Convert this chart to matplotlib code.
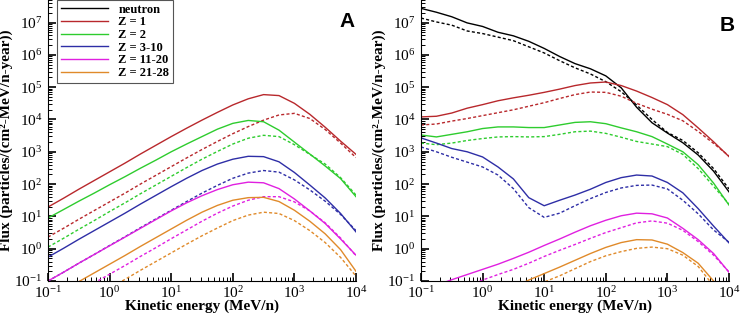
import matplotlib
matplotlib.use('Agg')
import matplotlib.pyplot as plt
from matplotlib.ticker import LogLocator, NullFormatter, LogFormatterSciNotation
import numpy as np

plt.rcParams['font.family'] = ['Liberation Serif', 'DejaVu Serif']
plt.rcParams['mathtext.fontset'] = 'custom'
plt.rcParams['mathtext.rm'] = 'Liberation Serif'

# kinetic energy grid (MeV/n), quarter decades
energy = [0.1, 0.178, 0.316, 0.562, 1, 1.78, 3.16, 5.62, 10, 17.8, 31.6,
          56.2, 100, 178, 316, 562, 1000, 1780, 3160, 5620, 10000]
x_ticks = [0.1, 1, 10, 100, 1000, 10000]
y_ticks = [0.1, 1, 10, 100, 1e3, 1e4, 1e5, 1e6, 1e7]

labels = ['neutron', 'Z = 1', 'Z = 2', 'Z = 3-10', 'Z = 11-20', 'Z = 21-28']
colors = ['#000000', '#b8282c', '#2ecc2e', '#2e2ea6', '#e020e0', '#e08a2a']

# panel A, log10 flux (no neutron curve)
a_z1 = [1.29, 1.56, 1.84, 2.11, 2.38, 2.65, 2.93, 3.20, 3.47, 3.73, 3.98,
        4.22, 4.45, 4.64, 4.77, 4.74, 4.50, 4.16, 3.76, 3.33, 2.92]
a_z1_d = [0.36, 0.63, 0.91, 1.18, 1.45, 1.72, 2.00, 2.27, 2.54, 2.81, 3.07,
          3.32, 3.56, 3.78, 3.98, 4.14, 4.19, 4.03, 3.69, 3.27, 2.82]
a_z2 = [0.95, 1.21, 1.47, 1.72, 1.98, 2.23, 2.49, 2.74, 3.00, 3.24, 3.47,
        3.70, 3.88, 3.97, 3.93, 3.67, 3.30, 2.93, 2.56, 2.17, 1.61]
a_z2_d = [0.05, 0.32, 0.60, 0.87, 1.15, 1.42, 1.70, 1.97, 2.24, 2.51, 2.77,
          3.01, 3.24, 3.42, 3.51, 3.47, 3.22, 2.92, 2.62, 2.20, 1.66]
a_z3 = [-0.26, 0.01, 0.29, 0.56, 0.83, 1.10, 1.38, 1.65, 1.92, 2.18, 2.42,
        2.62, 2.77, 2.86, 2.85, 2.69, 2.36, 1.97, 1.57, 1.09, 0.52]
a_z3_d = [-1.00, -0.73, -0.45, -0.18, 0.10, 0.37, 0.65, 0.92, 1.19, 1.46, 1.72,
          1.96, 2.18, 2.34, 2.42, 2.37, 2.13, 1.82, 1.47, 1.06, 0.56]
a_z11 = [-1.00, -0.73, -0.45, -0.18, 0.09, 0.36, 0.63, 0.90, 1.17, 1.42, 1.64,
         1.83, 1.98, 2.06, 2.04, 1.86, 1.54, 1.17, 0.78, 0.30, -0.20]
a_z11_d = [-1.88, -1.61, -1.33, -1.06, -0.79, -0.52, -0.24, 0.03, 0.31, 0.58, 0.85,
           1.10, 1.32, 1.50, 1.61, 1.61, 1.45, 1.17, 0.80, 0.33, -0.22]
a_z21 = [-1.57, -1.30, -1.02, -0.75, -0.48, -0.21, 0.07, 0.34, 0.61, 0.88, 1.13,
         1.34, 1.50, 1.58, 1.59, 1.46, 1.19, 0.85, 0.46, -0.03, -0.70]
a_z21_d = [-2.30, -2.03, -1.76, -1.49, -1.22, -0.95, -0.67, -0.40, -0.13, 0.14, 0.40,
           0.64, 0.87, 1.04, 1.13, 1.09, 0.87, 0.56, 0.19, -0.27, -0.85]

# panel B
b_n = [7.44, 7.32, 7.18, 6.99, 6.88, 6.70, 6.59, 6.42, 6.20, 5.95, 5.73,
       5.57, 5.35, 4.98, 4.38, 3.90, 3.58, 3.28, 2.90, 2.40, 1.76]
b_n_d = [7.14, 7.02, 6.92, 6.74, 6.66, 6.55, 6.44, 6.25, 6.06, 5.82, 5.60,
         5.41, 5.17, 4.86, 4.45, 4.00, 3.60, 3.35, 2.97, 2.48, 1.85]
b_z1 = [4.08, 4.10, 4.20, 4.35, 4.46, 4.58, 4.67, 4.75, 4.84, 4.94, 5.05,
        5.13, 5.16, 5.05, 4.88, 4.68, 4.46, 4.15, 3.74, 3.31, 2.85]
b_z1_d = [3.83, 3.86, 3.95, 4.03, 4.12, 4.21, 4.30, 4.41, 4.52, 4.65, 4.77,
          4.85, 4.84, 4.72, 4.50, 4.32, 4.16, 3.96, 3.63, 3.26, 2.87]
b_z2 = [3.52, 3.46, 3.54, 3.62, 3.72, 3.77, 3.77, 3.75, 3.75, 3.83, 3.91,
        3.93, 3.87, 3.74, 3.62, 3.47, 3.24, 3.00, 2.60, 2.03, 1.35]
b_z2_d = [3.27, 3.22, 3.27, 3.35, 3.41, 3.46, 3.47, 3.46, 3.47, 3.54, 3.62,
          3.64, 3.57, 3.45, 3.32, 3.24, 3.16, 2.92, 2.48, 1.93, 1.38]
b_z3 = [3.43, 3.27, 3.10, 3.00, 2.84, 2.53, 2.16, 1.58, 1.33, 1.50, 1.66,
        1.84, 2.05, 2.20, 2.28, 2.25, 2.05, 1.73, 1.24, 0.70, 0.18]
b_z3_d = [3.15, 3.00, 2.83, 2.68, 2.53, 2.28, 1.86, 1.27, 0.97, 1.10, 1.33,
          1.55, 1.74, 1.88, 1.96, 1.97, 1.85, 1.50, 1.08, 0.58, 0.20]
b_z11 = [-1.30, -1.13, -0.96, -0.80, -0.64, -0.48, -0.30, -0.11, 0.10, 0.30, 0.51,
         0.71, 0.88, 1.02, 1.10, 1.08, 0.95, 0.63, 0.28, -0.15, -0.73]
b_z11_d = [-1.75, -1.57, -1.38, -1.17, -0.97, -0.80, -0.64, -0.45, -0.24, -0.05, 0.13,
           0.32, 0.50, 0.65, 0.80, 0.86, 0.79, 0.57, 0.22, -0.20, -0.72]
b_z21 = [-2.70, -2.45, -2.20, -1.95, -1.70, -1.45, -1.20, -0.97, -0.77, -0.57, -0.36,
         -0.15, 0.04, 0.19, 0.28, 0.27, 0.14, -0.12, -0.45, -1.00, -1.80]
b_z21_d = [-2.85, -2.62, -2.39, -2.16, -1.93, -1.70, -1.47, -1.25, -1.03, -0.84, -0.62,
           -0.40, -0.22, -0.09, 0.01, 0.05, 0.00, -0.20, -0.55, -1.15, -1.90]

panel_a = [(None, None), (a_z1, a_z1_d), (a_z2, a_z2_d), (a_z3, a_z3_d),
           (a_z11, a_z11_d), (a_z21, a_z21_d)]
panel_b = [(b_n, b_n_d), (b_z1, b_z1_d), (b_z2, b_z2_d), (b_z3, b_z3_d),
           (b_z11, b_z11_d), (b_z21, b_z21_d)]

fig = plt.figure(figsize=(7.4, 3.19), dpi=100)
ax_a = fig.add_axes([48 / 740, 38 / 319, 308 / 740, 281 / 319])
ax_b = fig.add_axes([421 / 740, 38 / 319, 308 / 740, 281 / 319])

for ax, curves, tag, tx, ty in [(ax_a, panel_a, 'A', 0.971, 0.922),
                                (ax_b, panel_b, 'B', 0.994, 0.911)]:
    for (solid, dashed), lab, col in zip(curves, labels, colors):
        if solid is None:
            ax.plot([], [], color=col, lw=1.0, label=lab)
            continue
        ax.plot(energy, 10 ** np.array(solid), color=col, lw=1.0, label=lab)
        ax.plot(energy, 10 ** np.array(dashed), color=col, lw=1.0,
                dashes=(2.2, 1.6))
    ax.set_xscale('log')
    ax.set_yscale('log')
    ax.set_xticks(x_ticks)
    ax.set_yticks(y_ticks)
    ax.xaxis.set_major_formatter(LogFormatterSciNotation())
    ax.yaxis.set_major_formatter(LogFormatterSciNotation())
    ax.xaxis.set_minor_locator(LogLocator(base=10, subs=np.arange(2, 10), numticks=20))
    ax.yaxis.set_minor_locator(LogLocator(base=10, subs=np.arange(2, 10), numticks=20))
    ax.xaxis.set_minor_formatter(NullFormatter())
    ax.yaxis.set_minor_formatter(NullFormatter())
    ax.set_xlim(0.1, 1e4)
    ax.set_ylim(0.1, 5e7)
    ax.spines['top'].set_visible(False)
    ax.spines['right'].set_visible(False)
    ax.tick_params(which='major', direction='in', length=6, width=1.2,
                   labelsize=11)
    ax.tick_params(axis='x', which='major', pad=3)
    ax.tick_params(axis='y', which='major', pad=4)
    ax.tick_params(which='minor', direction='in', length=3, width=0.7)
    ax.set_xlabel('Kinetic energy (MeV/n)', fontsize=11, fontweight='bold',
                  labelpad=-1)
    ax.set_ylabel('Flux (particles/(cm²-MeV/n-year))', fontsize=11,
                  fontweight='bold', labelpad=1)
    ax.text(tx, ty, tag, transform=ax.transAxes, ha='center', va='center',
            fontsize=15, fontweight='bold', family='Liberation Sans')

leg = ax_a.legend(loc='upper left', bbox_to_anchor=(0.03, 1.0), borderaxespad=0,
                  prop={'weight': 'bold', 'size': 9},
                  handlelength=3.8, handletextpad=0.8, labelspacing=0.05,
                  fancybox=False, framealpha=1, edgecolor='#555555',
                  borderpad=0.3)
leg.get_frame().set_linewidth(0.8)

fig.savefig('out.png', dpi=100)
